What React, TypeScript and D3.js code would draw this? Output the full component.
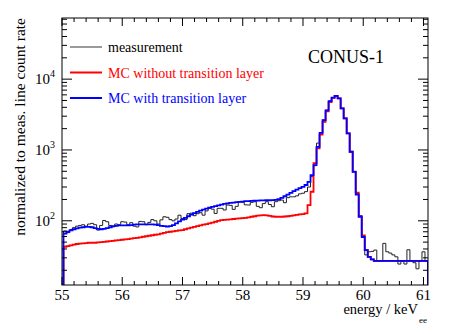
import React from 'react';
import * as d3 from 'd3';

// histogram binning (bins centred on multiples of 0.05 keV)
const binLowEdge = 55.025;
const binWidth = 0.05;

const measurement = [
  72, 68, 75, 80, 84, 86, 88, 84, 90, 92,
  88, 74, 86, 101, 97, 86, 82, 90, 88, 97,
  96, 88, 94, 84, 82, 98, 97, 88, 95, 104,
  100, 90, 103, 114, 112, 104, 100, 106, 120, 108,
  104, 126, 128, 118, 126, 130, 120, 138, 150, 146,
  127, 150, 150, 142, 167, 165, 145, 160, 185, 183,
  168, 167, 182, 186, 160, 153, 175, 186, 170, 158,
  186, 192, 196, 180, 212, 218, 218, 225, 240,
  245, 258, 300, 420, 600, 1250, 1750, 2650, 3650, 4900,
  5500, 5850, 5350, 3870, 2800, 1710, 950, 495, 240, 118,
  62, 33, 36.5, 37, 38.6, 27, 27, 48, 36.5, 35,
  33, 31, 24.5, 27, 24.5, 39, 27, 25.6, 21, 27,
  36.5, 27,
];

const mcWithout = [
  43, 44, 45, 46, 47, 47.5, 48, 48.5, 49, 49,
  49, 49.5, 50, 50.5, 51, 51.5, 52, 53, 53.5, 54,
  54.5, 55, 56, 57, 57.5, 58.5, 59.5, 60.5, 61.5, 62.5,
  63.5, 64.5, 66, 67.5, 69, 70, 71, 72, 73, 74,
  76, 78, 80, 82, 84, 86, 88, 90, 92, 94,
  97, 100, 102, 103, 104, 105, 106, 107, 108, 109,
  110, 112, 114, 116, 118, 119, 120, 119, 117, 115,
  114, 114, 114, 115, 116, 117, 119, 121, 123,
  124, 127, 166, 257, 650, 1050, 1650, 2500, 3500, 4750,
  5450, 5800, 5350, 3870, 2790, 1714, 944, 495, 250, 116,
  62, 38.5, 31, 28.5, 27.2, 27.2, 27.2, 27.2, 27.2, 27.2,
  27.2, 27.2, 27.2, 27.2, 27.2, 27.2, 27.2, 27.2, 27.2, 27.2,
  27.2, 27.2,
];

const mcWith = [
  66, 70, 73, 76, 78, 80, 81, 82, 82, 81,
  79, 77, 76, 77, 79, 81, 84, 85, 86, 86,
  86, 86, 87, 88, 89, 89, 89, 89, 89, 89,
  88, 87, 85, 84, 83, 84, 87, 92, 98, 104,
  110, 116, 122, 128, 134, 139, 144, 149, 153, 157,
  161, 165, 169, 173, 176, 179, 181, 183, 185, 187,
  189, 190, 191, 192, 193, 194, 194, 195, 195, 196,
  197, 202, 210, 222, 234, 248, 262, 276, 290,
  302, 320, 355, 441, 612, 1109, 1740, 2640, 3630, 4880,
  5500, 5820, 5350, 3870, 2790, 1714, 944, 490, 235, 114,
  59, 38.5, 31, 28.5, 27.2, 27.2, 27.2, 27.2, 27.2, 27.2,
  27.2, 27.2, 27.2, 27.2, 27.2, 27.2, 27.2, 27.2, 27.2, 27.2,
  27.2, 27.2,
];

const xTickLabels = ['55', '56', '57', '58', '59', '60', '61'];
const yDecades = [2, 3, 4];
const legendLabels = ['measurement', 'MC without transition layer', 'MC with transition layer'];

const W = 463;
const H = 334;
const frame = { left: 62, right: 428, top: 18, bottom: 285 };
const serif = "'Liberation Serif', 'Times New Roman', Times, serif";

const x = d3.scaleLinear().domain([55, 61.075]).range([frame.left, frame.right]);
const y = d3.scaleLog().domain([12.4, 73000]).range([frame.bottom, frame.top]);

function histPath(values: number[]) {
  const p = d3.path();
  const x0 = x(binLowEdge);
  p.moveTo(x0, frame.bottom + 5);
  values.forEach((v, i) => {
    const lo = binLowEdge + i * binWidth;
    p.lineTo(x(lo), y(v));
    p.lineTo(x(lo + binWidth), y(v));
  });
  p.lineTo(x(binLowEdge + values.length * binWidth), frame.bottom + 5);
  return p.toString();
}

export default function App() {
  const xMajor = xTickLabels.map(Number);
  const xMinor = d3.range(0, 31).map(i => 55 + i * 0.2).filter(v => Math.abs(v - Math.round(v)) > 0.01);
  const yTicks = y.ticks();
  const yMajor = yTicks.filter(v => Math.abs(Math.log10(v) - Math.round(Math.log10(v))) < 1e-6);
  const yMinor = yTicks.filter(v => !yMajor.includes(v));

  const legend = [
    { label: legendLabels[0], color: '#9a9a9a', text: '#000' },
    { label: legendLabels[1], color: '#ff0000', text: '#ff0000' },
    { label: legendLabels[2], color: '#0000ff', text: '#0000ff' },
  ];

  return (
    <svg width={W} height={H} style={{ position: 'absolute', left: 0, top: 0, background: 'white', fontFamily: serif }}>
      <defs>
        <clipPath id="plot-clip">
          <rect x={frame.left} y={frame.top} width={frame.right - frame.left} height={frame.bottom - frame.top} />
        </clipPath>
      </defs>

      <g clipPath="url(#plot-clip)" fill="none" strokeLinejoin="miter">
        <path d={histPath(measurement)} stroke="#222" strokeWidth={1} />
        <path d={histPath(mcWithout)} stroke="#ff0000" strokeWidth={1.8} />
        <path d={histPath(mcWith)} stroke="#0000ff" strokeWidth={1.8} />
      </g>

      {/* frame */}
      <rect x={frame.left} y={frame.top} width={frame.right - frame.left} height={frame.bottom - frame.top}
        fill="none" stroke="#000" strokeWidth={1} />

      {/* ticks */}
      <g stroke="#000" strokeWidth={1}>
        {xMajor.map(v => (
          <g key={'xM' + v}>
            <line x1={x(v)} x2={x(v)} y1={frame.bottom} y2={frame.bottom - 8} />
            <line x1={x(v)} x2={x(v)} y1={frame.top} y2={frame.top + 8} />
          </g>
        ))}
        {xMinor.map(v => (
          <g key={'xm' + v}>
            <line x1={x(v)} x2={x(v)} y1={frame.bottom} y2={frame.bottom - 4} />
            <line x1={x(v)} x2={x(v)} y1={frame.top} y2={frame.top + 4} />
          </g>
        ))}
        {yMajor.map(v => (
          <g key={'yM' + v}>
            <line x1={frame.left} x2={frame.left + 10} y1={y(v)} y2={y(v)} />
            <line x1={frame.right} x2={frame.right - 10} y1={y(v)} y2={y(v)} />
          </g>
        ))}
        {yMinor.map(v => (
          <g key={'ym' + v}>
            <line x1={frame.left} x2={frame.left + 5} y1={y(v)} y2={y(v)} />
            <line x1={frame.right} x2={frame.right - 5} y1={y(v)} y2={y(v)} />
          </g>
        ))}
      </g>

      {/* tick labels */}
      <g fontSize={15} fill="#000" style={{ fontFamily: serif }}>
        {xTickLabels.map(t => (
          <text key={t} x={x(+t)} y={300} textAnchor="middle">{t}</text>
        ))}
        {yDecades.map(e => (
          <text key={e} x={55} y={y(Math.pow(10, e)) + 5} textAnchor="end">
            10<tspan dy={-7} fontSize={10}>{e}</tspan>
          </text>
        ))}
      </g>

      {/* axis titles */}
      <g style={{ fontFamily: serif }}>
        <text x={418} y={314} textAnchor="end" fontSize={14.5}>energy / keV</text>
        <text x={419} y={323} fontSize={9}>ee</text>
        <text transform={`translate(25, ${frame.top}) rotate(-90)`} textAnchor="end" fontSize={15.5}>
          normalized to meas. line count rate
        </text>
      </g>

      {/* legend */}
      <g style={{ fontFamily: serif }}>
        {legend.map((d, i) => (
          <g key={d.label} transform={`translate(0, ${47 + i * 25.5})`}>
            <line x1={70} x2={102} y1={0} y2={0} stroke={d.color} strokeWidth={2} />
            <text x={108} y={5} fontSize={14} fill={d.text}>{d.label}</text>
          </g>
        ))}
        <text x={308} y={63} fontSize={18}>CONUS-1</text>
      </g>
    </svg>
  );
}
